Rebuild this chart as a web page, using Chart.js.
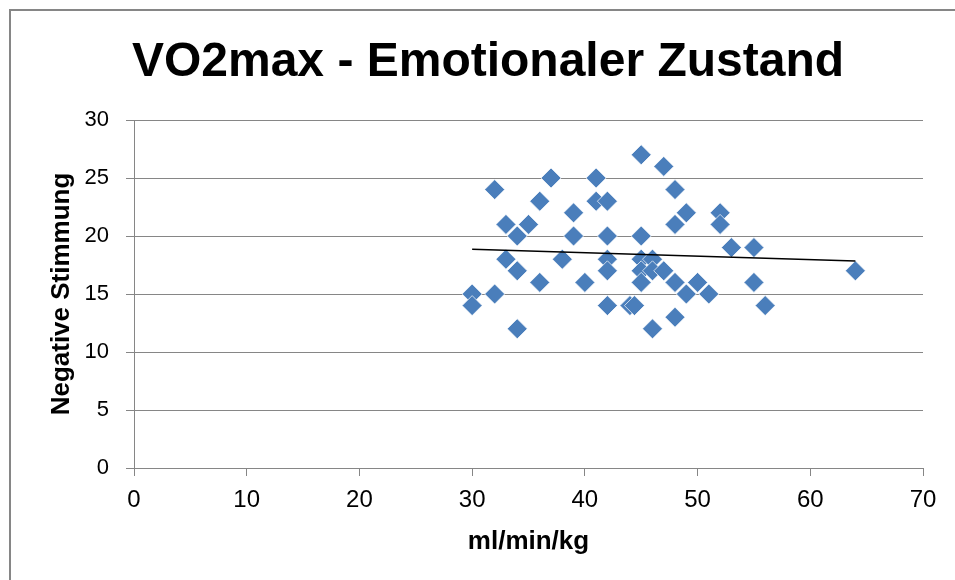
<!DOCTYPE html>
<html>
<head>
    <title>VO2max - Emotionaler Zustand</title>
    <style>
        body { margin: 0; background: #fff; }
    </style>
</head>
<body>
    <canvas id="chartId" width="955" height="580"></canvas>

    <script src="https://cdn.jsdelivr.net/npm/chart.js@4/dist/chart.umd.min.js"></script>
    <script>
        // VO2max (ml/min/kg) vs. negative mood score
        var vo2max = [30, 30, 32, 32, 33, 33, 34, 35, 34, 34, 36, 36, 37, 38, 39, 39, 40,
                      41, 41, 42, 42, 42, 42, 42, 44, 44.4, 45, 45, 45, 45, 45, 46, 46, 46,
                      47, 47, 48, 48, 48, 48, 49, 49, 50, 51, 52, 52, 53, 55, 55, 56, 64];
        var stimmung = [15, 14, 24, 15, 21, 18, 20, 21, 17, 12, 23, 16, 25, 18, 22, 20, 16,
                        25, 23, 23, 20, 18, 17, 14, 14, 14, 27, 20, 18, 17, 16, 18, 17, 12,
                        26, 17, 24, 21, 16, 13, 22, 15, 16, 15, 22, 21, 19, 19, 16, 14, 17];

        // linear trend line ends (as drawn in the original)
        var trendX = [30, 64];
        var trendY = [18.85, 17.85];

        var xTicks = [0, 10, 20, 30, 40, 50, 60, 70];
        var yTicks = [0, 5, 10, 15, 20, 25, 30];

        var chartTitle = 'VO2max - Emotionaler Zustand';

        var gray = '#868686';
        var fontName = '"Liberation Sans", Arial, sans-serif';

        var points = vo2max.map(function (v, i) { return { x: v, y: stimmung[i] }; });
        var trend = trendX.map(function (v, i) { return { x: v, y: trendY[i] }; });

        // grey frame round the chart plus the big title (the original title is not centred on the plot)
        var frame = {
            id: 'frame',
            beforeDraw: function (chart) {
                var ctx = chart.ctx;
                ctx.save();
                ctx.strokeStyle = gray;
                ctx.lineWidth = 2;
                ctx.strokeRect(10, 10, 1000, 1000);
                ctx.restore();
            },
            afterDraw: function (chart) {
                var ctx = chart.ctx;
                ctx.save();
                ctx.fillStyle = '#000';
                ctx.font = 'bold 48px ' + fontName;
                ctx.textAlign = 'center';
                ctx.textBaseline = 'alphabetic';
                ctx.fillText(chartTitle, 488, 76);
                ctx.restore();
            }
        };

        var chrt = document.getElementById('chartId').getContext('2d');
        var chartId = new Chart(chrt, {
            type: 'scatter',
            data: {
                datasets: [{
                    label: 'Negative Stimmung',
                    data: points,
                    pointStyle: 'rectRot',
                    radius: 10,
                    backgroundColor: '#4a7ebb',
                    borderColor: 'rgba(255,255,255,0.7)',
                    borderWidth: 1,
                    order: 2
                }, {
                    label: 'Trend',
                    type: 'line',
                    data: trend,
                    borderColor: '#000',
                    borderWidth: 1.5,
                    pointRadius: 0,
                    fill: false,
                    order: 1
                }]
            },
            options: {
                responsive: false,
                animation: false,
                layout: { padding: { left: 0, right: 32, top: 120, bottom: 0 } },
                scales: {
                    x: {
                        type: 'linear',
                        min: 0,
                        max: 70,
                        afterBuildTicks: function (s) { s.ticks = xTicks.map(function (v) { return { value: v }; }); },
                        afterFit: function (s) { s.height = 112; },
                        grid: { drawOnChartArea: false, drawTicks: true, tickLength: 8, color: gray },
                        border: { color: gray, width: 1 },
                        ticks: { color: '#000', padding: 10, font: { family: fontName, size: 24 } },
                        title: {
                            display: true,
                            text: 'ml/min/kg',
                            color: '#000',
                            padding: { top: 0, bottom: 23 },
                            font: { family: fontName, size: 26, weight: 'bold' }
                        }
                    },
                    y: {
                        min: 0,
                        max: 30,
                        afterBuildTicks: function (s) { s.ticks = yTicks.map(function (v) { return { value: v }; }); },
                        afterFit: function (s) { s.width = 134; },
                        grid: { drawTicks: true, tickLength: 8, color: gray },
                        border: { color: gray, width: 1 },
                        ticks: { color: '#000', padding: 17, font: { family: fontName, size: 22 } },
                        title: {
                            display: true,
                            text: 'Negative Stimmung',
                            color: '#000',
                            padding: { top: 46, bottom: 0 },
                            font: { family: fontName, size: 26, weight: 'bold' }
                        }
                    }
                },
                plugins: {
                    legend: { display: false },
                    tooltip: { enabled: false },
                    title: { display: false }
                }
            },
            plugins: [frame]
        });
    </script>
</body>
</html>
